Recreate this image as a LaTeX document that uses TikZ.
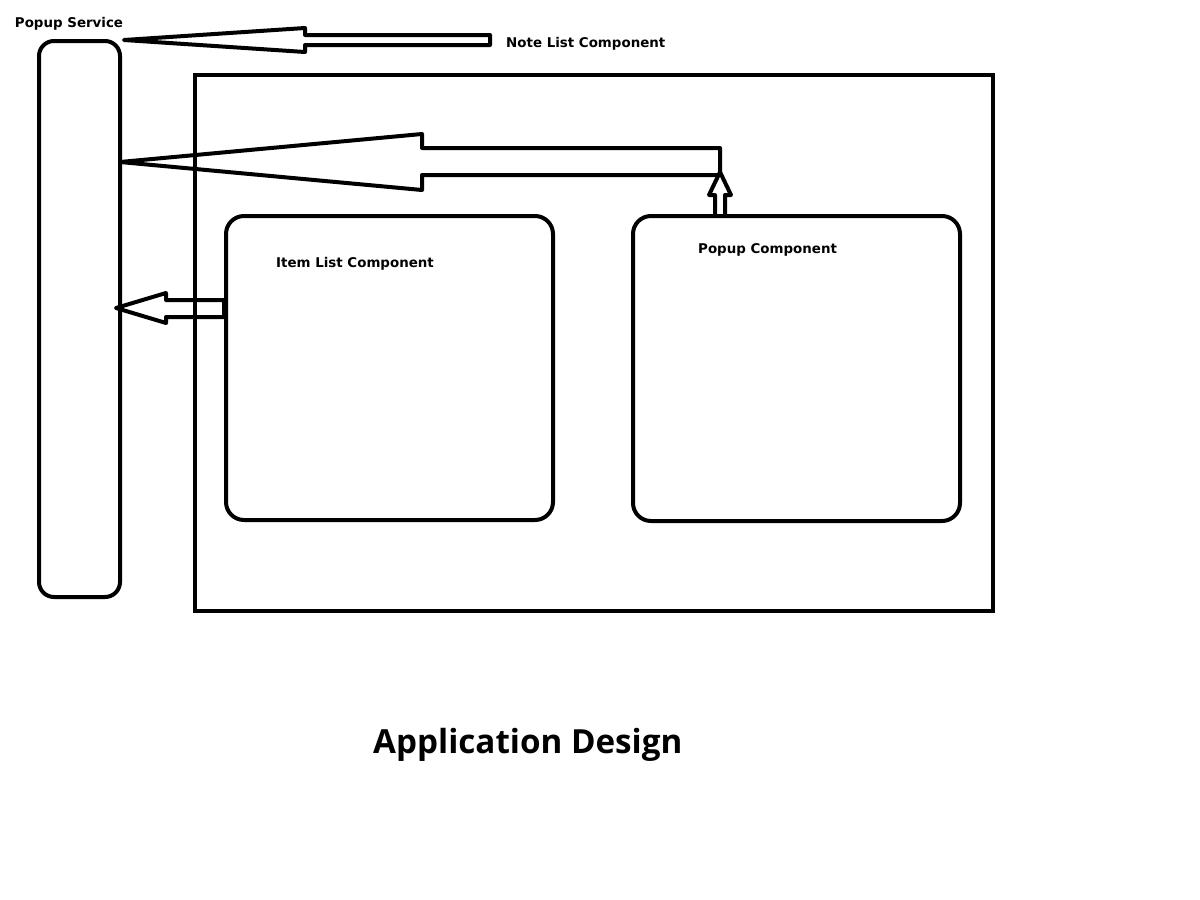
\documentclass[tikz,border=0pt]{standalone}
\usepackage{fontspec}
\setmainfont{DejaVu Sans}
\newfontfamily\titlefont{Open Sans}
\begin{document}
\begin{tikzpicture}[x=1pt,y=-1pt,
  ln/.style={line width=4pt,line join=round,line cap=round},
  boxline/.style={draw,line width=4pt},
  lbl/.style={font=\bfseries\fontsize{13.4}{15}\selectfont,inner sep=0pt,anchor=west}]
\useasboundingbox (0,0) rectangle (1200,900);
% Popup Service bar
\node[boxline,rounded corners=15pt,minimum width=81pt,minimum height=556pt,inner sep=0pt] (svc) at (79.5,319) {};
% main rectangle
\node[boxline,minimum width=798pt,minimum height=536pt,inner sep=0pt] (app) at (594,343) {};
% Item list
\node[boxline,rounded corners=18pt,minimum width=327pt,minimum height=304pt,inner sep=0pt] (item) at (389.5,368) {};
% Popup component
\node[boxline,rounded corners=18pt,minimum width=327pt,minimum height=305pt,inner sep=0pt] (pop) at (796.5,368.5) {};
% labels
\node[lbl,anchor=center] (tsvc) at (69,24) {Popup Service};
\node[lbl] (tnote) at (506,44) {Note List Component};
\node[lbl] (titem) at (276,264) {Item List Component};
\node[lbl] (tpop) at (698,250) {Popup Component};
\node[font=\titlefont\bfseries\fontsize{33.2}{38}\selectfont,inner sep=0pt,anchor=west] (title) at (373,745) {Application Design};
% Arrow 1: Note List -> Popup Service
\coordinate (a1tip) at (124,40);
\draw[ln] (a1tip) -- (305,28) -- (305,35) -- (490,35) -- (490,45) -- (305,45) -- (305,52) -- cycle;
% Arrow 2: Popup component -> Popup Service
\coordinate (a2tip) at (120,162);
\draw[ln] (a2tip) -- (422,134) -- (422,148) -- (720,148) -- (720,175) -- (422,175) -- (422,190) -- cycle;
% small up arrow from popup component
\draw[ln] (pop.north -| 715,0) -- (715,195) -- (709,195) -- (720,172) -- (731,195) -- (725,195) -- (pop.north -| 725,0);
% Arrow 3: Item list -> Popup Service
\coordinate (a3tip) at (116,308);
\draw[ln] (a3tip) -- (166,293) -- (166,300) -- (item.west |- 0,300) -- (item.west |- 0,317) -- (166,317) -- (166,323) -- cycle;
\end{tikzpicture}
\end{document}
